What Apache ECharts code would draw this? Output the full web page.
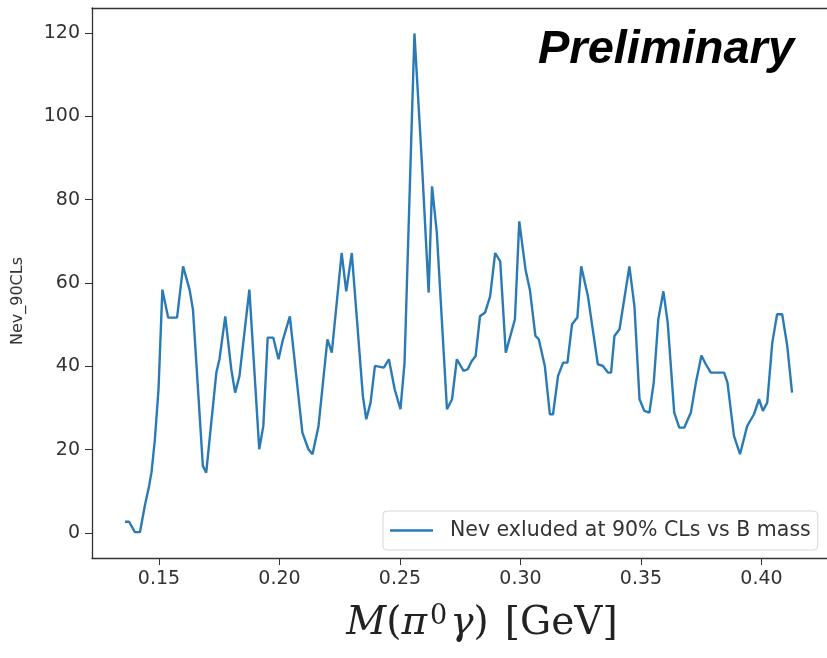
<!DOCTYPE html>
<html>
<head>
<meta charset="utf-8">
<script src="https://cdn.jsdelivr.net/npm/echarts@6/dist/echarts.min.js"></script>
<style>html,body{margin:0;padding:0;background:#fff;}#c{width:827px;height:658px;}</style>
</head>
<body>
<div id="c"></div>
<script>
const massGeV = [0.1359,0.1376,0.1400,0.1421,0.1441,0.1459,0.1469,0.1483,0.1498,0.1514,
0.1538,0.1575,0.1600,0.1627,0.1641,0.1682,0.1696,0.1738,0.1751,0.1775,
0.1800,0.1816,0.1834,0.1875,0.1916,0.1933,0.1951,0.1974,0.1996,0.2013,
0.2043,0.2095,0.2120,0.2137,0.2162,0.2199,0.2217,0.2258,0.2277,0.2300,
0.2346,0.2360,0.2378,0.2396,0.2433,0.2454,0.2478,0.2502,0.2519,0.2560,
0.2591,0.2619,0.2633,0.2653,0.2695,0.2716,0.2736,0.2764,0.2781,0.2798,
0.2814,0.2832,0.2853,0.2874,0.2895,0.2916,0.2939,0.2977,0.2995,0.3021,
0.3039,0.3062,0.3076,0.3101,0.3122,0.3135,0.3156,0.3177,0.3195,0.3214,
0.3236,0.3252,0.3280,0.3321,0.3342,0.3363,0.3376,0.3390,0.3411,0.3452,
0.3473,0.3494,0.3514,0.3535,0.3553,0.3572,0.3593,0.3611,0.3638,0.3659,
0.3680,0.3707,0.3728,0.3751,0.3769,0.3790,0.3845,0.3859,0.3886,0.3911,
0.3941,0.3969,0.3990,0.4006,0.4024,0.4045,0.4065,0.4086,0.4107,0.4127];
const nevValues = [2.7,2.7,0.2,0.2,6.5,11.3,14.6,22.5,34.5,58.4,
51.7,51.7,64.0,58.4,53.6,16.1,14.5,38.5,41.7,52.0,
39.3,33.7,37.7,58.4,20.1,25.7,46.9,46.9,41.7,46.1,
52.0,24.1,20.1,18.9,25.7,46.5,43.3,67.2,58.0,67.2,
32.9,27.3,31.3,40.1,39.7,41.7,34.5,29.7,40.9,119.9,
88.8,57.7,83.2,72.0,29.7,32.1,41.7,38.9,39.3,41.3,
42.5,52.0,52.9,56.8,67.2,65.2,43.3,51.3,74.8,63.2,
58.4,47.3,46.5,40.1,28.5,28.5,37.7,40.9,40.9,50.1,
51.7,64.0,56.8,40.5,40.1,38.5,38.5,47.3,48.9,64.0,
54.4,32.1,29.3,28.9,36.1,51.3,58.0,50.5,28.9,25.3,
25.3,28.9,36.1,42.6,40.5,38.5,38.5,36.1,23.3,18.9,
25.7,28.5,32.1,29.3,31.3,45.7,52.5,52.5,44.9,33.7];
const xTicks = [0.15,0.20,0.25,0.30,0.35,0.40];
const yTicks = [0,20,40,60,80,100,120];
const seriesName = 'Nev exluded at 90% CLs vs B mass';
const yAxisTitle = 'Nev_90CLs';
const watermark = 'Preliminary';

const chart = echarts.init(document.getElementById('c'), null, {renderer:'canvas'});
const axisColor = '#333';
const lineColor = '#2a7ab6';
const option = {
  backgroundColor: '#fff',
  animation: false,
  grid: {left: 92, top: 8, width: 738, height: 550, show: false},
  legend: {
    left: 383, top: 511, orient: 'horizontal',
    padding: [9, 7, 9, 7],
    icon: 'rect',
    itemWidth: 43, itemHeight: 2.5,
    backgroundColor: 'rgba(255,255,255,0.85)',
    borderColor: '#d6d6d6', borderWidth: 1, borderRadius: 4,
    textStyle: {fontFamily: 'DejaVu Sans', fontSize: 20.5, color: '#333', padding: [0,0,0,12]},
    data: [{name: seriesName, itemStyle: {color: lineColor}}]
  },
  xAxis: [{
    type: 'value', min: 0.1222, max: 0.4272,
    axisLine: {show: true, onZero: false, lineStyle: {color: axisColor, width: 1.3}},
    axisTick: {show: true, length: 7, inside: false, customValues: xTicks, lineStyle: {color: axisColor}},
    axisLabel: {customValues: xTicks, margin: 12, fontFamily: 'DejaVu Sans', fontSize: 19, color: '#333',
      formatter: v => v.toFixed(2)},
    splitLine: {show: false}
  }, {
    type: 'value', position: 'top', min: 0.1222, max: 0.4272,
    axisLine: {show: true, onZero: false, lineStyle: {color: axisColor, width: 1.3}},
    axisTick: {show: false}, axisLabel: {show: false}, splitLine: {show: false}
  }],
  yAxis: {
    type: 'value', min: -6, max: 126,
    axisLine: {show: true, onZero: false, lineStyle: {color: axisColor, width: 1.3}},
    axisTick: {show: true, length: 7, inside: false, customValues: yTicks, lineStyle: {color: axisColor}},
    axisLabel: {customValues: yTicks, margin: 12, fontFamily: 'DejaVu Sans', fontSize: 19, color: '#333'},
    splitLine: {show: false}
  },
  graphic: [
    {type: 'text', x: 18, y: 301, rotation: Math.PI/2,
      style: {text: yAxisTitle, fontFamily: 'DejaVu Sans', fontSize: 16, fill: '#333', align: 'center', verticalAlign: 'middle'}},
    {type: 'text', x: 538, y: 50,
      style: {text: watermark, fontFamily: 'Liberation Sans', fontSize: 47, fontWeight: 'bold', fontStyle: 'italic', fill: '#000', align: 'left', verticalAlign: 'middle'}},
    {type: 'text', x: 482, y: 624,
      style: {
        text: '{i|M}{u|(}{i|π}{s|0}{i|γ}{u|)}{g| }{u|[GeV]}',
        align: 'center', verticalAlign: 'middle', fill: '#222',
        rich: {
          i: {fontFamily: 'DejaVu Serif', fontStyle: 'italic', fontSize: 39, fill: '#222'},
          u: {fontFamily: 'DejaVu Serif', fontSize: 39, fill: '#222'},
          g: {fontFamily: 'DejaVu Serif', fontSize: 39, width: 16},
          s: {fontFamily: 'DejaVu Serif', fontSize: 27, fill: '#222', verticalAlign: 'top', padding: [0,3,14,3]}
        }
      }}
  ],
  series: [{
    name: seriesName, type: 'line', xAxisIndex: 0,
    data: massGeV.map((m, i) => [m, nevValues[i]]),
    symbol: 'none', smooth: false,
    lineStyle: {color: lineColor, width: 2.4},
    itemStyle: {color: lineColor}
  }]
};
chart.setOption(option);
</script>
</body>
</html>
